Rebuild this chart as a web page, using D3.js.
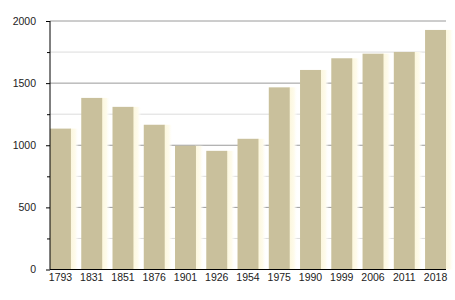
<!DOCTYPE html>
<html><head><meta charset="utf-8">
<script src="https://cdn.jsdelivr.net/npm/d3@7"></script>
<style>body{margin:0;background:#fff}svg{display:block}</style>
</head><body>
<script>
const years = ["1793","1831","1851","1876","1901","1926","1954","1975","1990","1999","2006","2011","2018"];
const population = [1134,1381,1309,1165,996,955,1052,1466,1606,1700,1737,1751,1928];
const majorTicks = [0,500,1000,1500,2000];
const minorTicks = [250,750,1250,1750];

const W=455,H=300, L=50, R=446, T=21, B=269.5;
const svg=d3.select("body").append("svg").attr("width",W).attr("height",H);
const defs=svg.append("defs");
const g=defs.append("linearGradient").attr("id","glow").attr("x1","0").attr("x2","1");
g.append("stop").attr("offset","0").attr("stop-color","#fcf6da");
g.append("stop").attr("offset","0.6").attr("stop-color","#fefbec");
g.append("stop").attr("offset","1").attr("stop-color","#ffffff").attr("stop-opacity",0);

const x=d3.scaleBand().domain(years).range([L,R]).paddingInner(0.33).paddingOuter(0);
const y=d3.scaleLinear().domain([0,2000]).range([B,T]);

svg.append("g").selectAll("line").data(minorTicks).join("line")
 .attr("x1",L).attr("x2",R).attr("y1",d=>y(d)).attr("y2",d=>y(d))
 .attr("stroke","#dcdcdc").attr("stroke-width",1);
svg.append("g").selectAll("line").data(majorTicks.filter(d=>d>0)).join("line")
 .attr("x1",L).attr("x2",R).attr("y1",d=>y(d)).attr("y2",d=>y(d))
 .attr("stroke","#9a9a9a").attr("stroke-width",1);

svg.append("g").selectAll("rect").data(years).join("rect")
 .attr("x",d=>x(d)+x.bandwidth()-1).attr("width",9)
 .attr("y",(d,i)=>y(population[i])).attr("height",(d,i)=>B-y(population[i]))
 .attr("fill","url(#glow)");
svg.append("g").selectAll("rect").data(years).join("rect")
 .attr("x",d=>x(d)).attr("width",x.bandwidth())
 .attr("y",(d,i)=>y(population[i])).attr("height",(d,i)=>B-y(population[i]))
 .attr("fill","#c9c09c");

const ya=svg.append("g").attr("transform",`translate(${L},0)`)
 .call(d3.axisLeft(y).tickValues(majorTicks).tickSize(4).tickPadding(10).tickFormat(d3.format("d")));
ya.select(".domain").remove();
const ym=svg.append("g").attr("transform",`translate(${L},0)`)
 .call(d3.axisLeft(y).tickValues(minorTicks).tickSize(3).tickFormat(""));
ym.select(".domain").remove();
svg.append("line").attr("x1",L).attr("x2",L).attr("y1",T).attr("y2",B).attr("stroke","#000");
svg.append("line").attr("x1",L).attr("x2",R).attr("y1",B).attr("y2",B).attr("stroke","#000");

const xa=svg.append("g").attr("transform",`translate(0,${B})`)
 .call(d3.axisBottom(x).tickSize(0).tickPadding(4));
xa.select(".domain").remove();
svg.selectAll(".tick text").attr("font-family","Liberation Sans, Arial, sans-serif").attr("font-size",10.5).attr("fill","#222");
svg.selectAll(".tick line").attr("stroke","#000");
</script>
</body></html>
